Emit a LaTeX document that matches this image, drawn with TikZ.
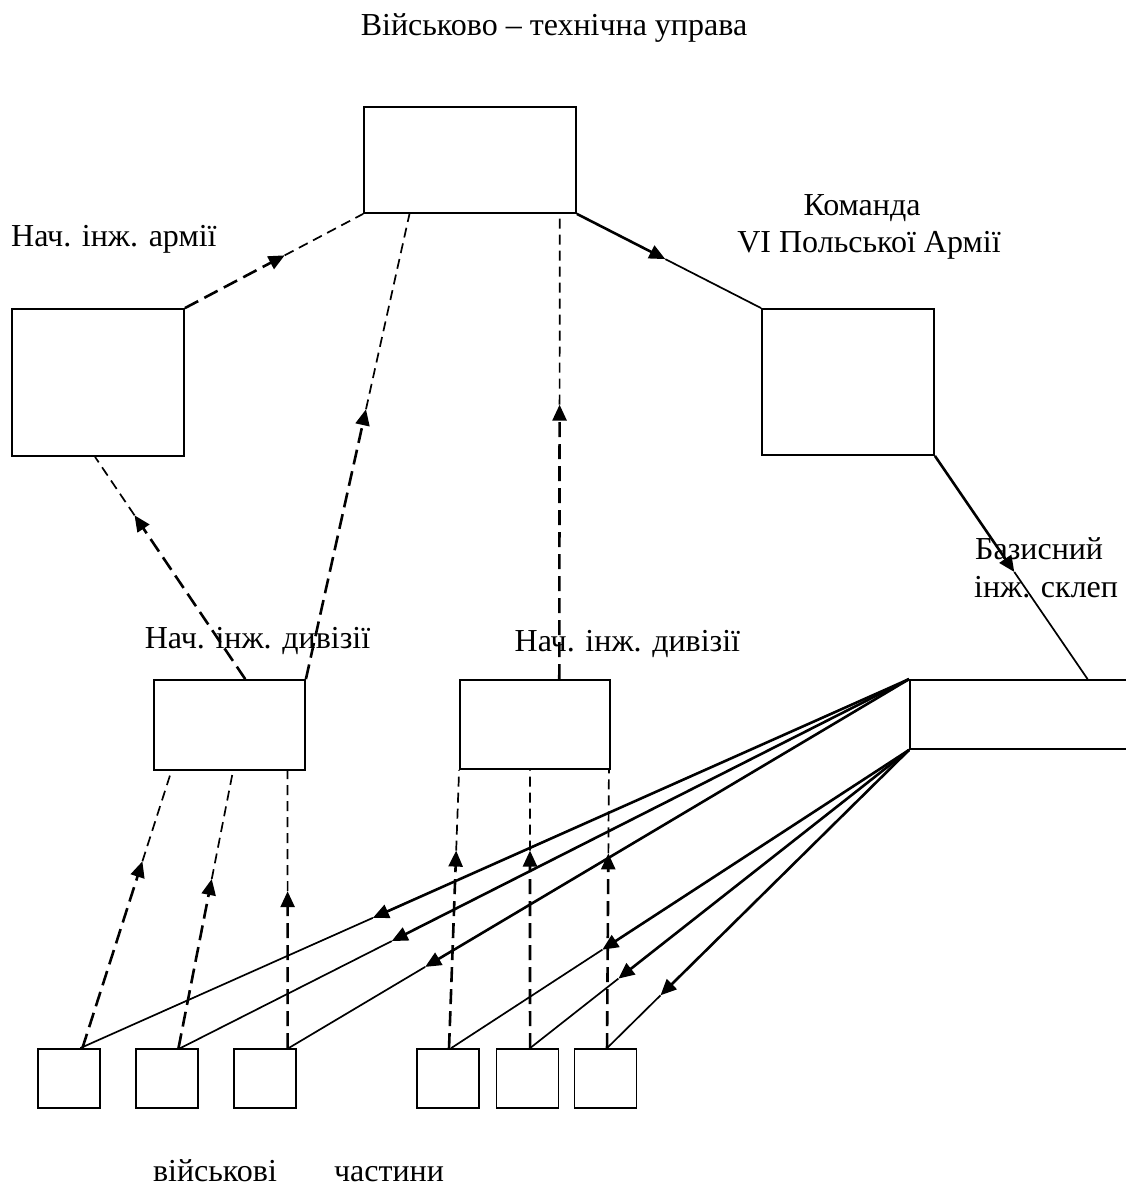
\documentclass[tikz,border=0pt]{standalone}
\usepackage{fontspec}
\setmainfont{Liberation Serif}
\usetikzlibrary{arrows.meta,calc}
\newcommand{\myln}[5]{%
  \draw[thk,tip,#1] (#3) -- ($(#3)!#5!(#4)$);
  \draw[thn,#2] ($(#3)!#5!(#4)$) -- (#4);}
\begin{document}
\begin{tikzpicture}[x=1pt,y=-1pt,
  box/.style={draw,line width=1.8pt,rectangle,inner sep=0pt},
  lbl/.style={inner sep=0pt,font=\fontsize{32}{38}\selectfont},
  thk/.style={line width=2.6pt},
  thn/.style={line width=1.7pt},
  dk/.style={dash pattern=on 15pt off 7pt},
  dn/.style={dash pattern=on 10pt off 6pt},
  sld/.style={},
  tip/.style={-{Triangle[length=16pt,width=14pt]}}]
\useasboundingbox (0,0) rectangle (1125,1186);

% boxes
\node[box,minimum width=212pt,minimum height=106pt] (top) at (470,160) {};
\node[box,minimum width=172pt,minimum height=147pt] (army) at (98,382.5) {};
\node[box,minimum width=172pt,minimum height=146pt] (cmd) at (848,382) {};
\node[box,minimum width=151pt,minimum height=90pt] (div1) at (229.5,725) {};
\node[box,minimum width=150pt,minimum height=89pt] (div2) at (535,724.5) {};
\node[box,minimum width=230pt,minimum height=69pt] (base) at (1025,714.5) {};
\node[box,minimum width=62pt,minimum height=59pt] (s1) at (69,1078.5) {};
\node[box,minimum width=62pt,minimum height=59pt] (s2) at (167,1078.5) {};
\node[box,minimum width=62pt,minimum height=59pt] (s3) at (265,1078.5) {};
\node[box,minimum width=62pt,minimum height=59pt] (s4) at (448,1078.5) {};
\node[box,minimum width=62pt,minimum height=59pt] (s5) at (527.5,1078.5) {};
\node[box,minimum width=62pt,minimum height=59pt] (s6) at (605.5,1078.5) {};

% labels
\node[lbl,anchor=base] (title) at (554,35) {Військово – технічна управа};
\node[lbl,anchor=base west] (larmy) at (11,246) {Нач. інж. армії};
\node[lbl,anchor=base] (lcmd1) at (862,215) {Команда};
\node[lbl,anchor=base] (lcmd2) at (869,252) {VI Польської Армії};
\node[lbl,anchor=base] (ldiv1) at (257.5,648) {Нач. інж. дивізії};
\node[lbl,anchor=base west] (ldiv2) at (514.5,651) {Нач. інж. дивізії};
\node[lbl,anchor=base west] (lbase1) at (975,559) {Базисний};
\node[lbl,anchor=base west] (lbase2) at (974,597) {інж. склеп};
\node[lbl,anchor=base] (lunit1) at (215,1181) {військові};
\node[lbl,anchor=base] (lunit2) at (389,1181) {частини};

% connection points
\coordinate (d1n) at ($(div1.north west)!0.603!(div1.north east)$);
\coordinate (armys) at ($(army.south west)!0.483!(army.south east)$);
\coordinate (topa) at ($(top.south west)!0.217!(top.south east)$);
\coordinate (d2n) at ($(div2.north west)!0.66!(div2.north east)$);
\coordinate (topb) at ($(top.south west)!0.92!(top.south east)$);
\coordinate (basen) at ($(base.north west)!0.77!(base.north east)$);

\coordinate (d1a) at ($(div1.south west)!0.12!(div1.south east)$);
\coordinate (d1b) at ($(div1.south west)!0.523!(div1.south east)$);
\coordinate (d1c) at ($(div1.south west)!0.88!(div1.south east)$);
\coordinate (d2b) at ($(div2.south west)!0.467!(div2.south east)$);
\coordinate (d2c) at ($(div2.south west)!0.987!(div2.south east)$);

\coordinate (s1d) at ($(s1.north west)!0.71!(s1.north east)$);
\coordinate (s2d) at ($(s2.north west)!0.68!(s2.north east)$);
\coordinate (s3d) at ($(s3.north west)!0.855!(s3.north east)$);
\coordinate (s4d) at ($(s4.north west)!0.516!(s4.north east)$);
\coordinate (s5d) at ($(s5.north west)!0.54!(s5.north east)$);
\coordinate (s6d) at ($(s6.north west)!0.524!(s6.north east)$);

\coordinate (s1s) at ($(s1.north west)!0.677!(s1.north east)$);
\coordinate (s2s) at ($(s2.north west)!0.71!(s2.north east)$);
\coordinate (s3s) at ($(s3.north west)!0.87!(s3.north east)$);
\coordinate (s4s) at ($(s4.north west)!0.55!(s4.north east)$);
\coordinate (s5s) at ($(s5.north west)!0.54!(s5.north east)$);
\coordinate (s6s) at ($(s6.north west)!0.524!(s6.north east)$);

% upper connectors
\myln{dk}{dn}{army.north east}{top.south west}{0.56}
\myln{dk}{dn}{d1n}{armys}{0.737}
\myln{dk}{dn}{div1.north east}{topa}{0.58}
\myln{dk}{dn}{d2n}{topb}{0.59}
\myln{sld}{sld}{top.south east}{cmd.north west}{0.48}
\myln{sld}{sld}{cmd.south east}{basen}{0.52}

% lower dashed connectors
\myln{dk}{dn}{s1d}{d1a}{0.674}
\myln{dk}{dn}{s2d}{d1b}{0.61}
\myln{dk}{dn}{s3d}{d1c}{0.566}
\myln{dk}{dn}{s4d}{div2.south west}{0.71}
\myln{dk}{dn}{s5d}{d2b}{0.71}
\myln{dk}{dn}{s6d}{d2c}{0.70}

% supply connectors
\myln{sld}{sld}{base.north west}{s1s}{0.647}
\myln{sld}{sld}{base.north west}{s2s}{0.71}
\myln{sld}{sld}{base.north west}{s3s}{0.78}
\myln{sld}{sld}{base.south west}{s4s}{0.67}
\myln{sld}{sld}{base.south west}{s5s}{0.767}
\myln{sld}{sld}{base.south west}{s6s}{0.823}
\end{tikzpicture}
\end{document}
